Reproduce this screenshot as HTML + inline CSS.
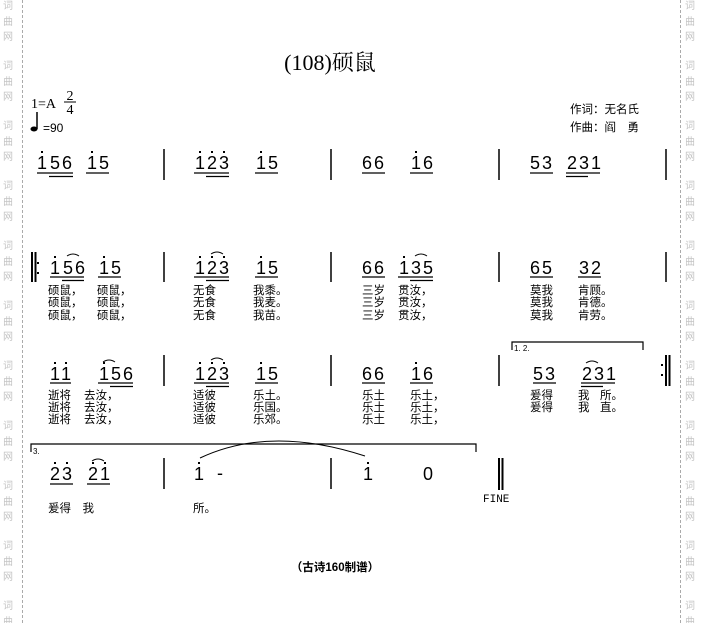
<!DOCTYPE html>
<html><head><meta charset="utf-8"><style>
html,body{margin:0;padding:0;background:#fff;}
svg{display:block;}
.n{font-family:"Liberation Sans",sans-serif;font-size:18px;text-anchor:middle;fill:#000;}
.l{font-family:"Liberation Sans","Noto Sans CJK SC",sans-serif;font-size:11.5px;fill:#000;}
.w{font-family:"Noto Sans CJK SC",sans-serif;font-size:10px;fill:#c4c4c4;text-anchor:middle;}
</style></head><body>
<svg width="701" height="623" viewBox="0 0 701 623" xmlns="http://www.w3.org/2000/svg">
<g stroke="#aaa" stroke-dasharray="3,2" stroke-width="1">
<line x1="22.5" y1="0" x2="22.5" y2="623"/><line x1="680.5" y1="0" x2="680.5" y2="623"/>
</g>
<g class="w" id="wm">
<text x="8" y="9">词</text><text x="8" y="25">曲</text><text x="8" y="40">网</text>
<text x="8" y="69">词</text><text x="8" y="85">曲</text><text x="8" y="100">网</text>
<text x="8" y="129">词</text><text x="8" y="145">曲</text><text x="8" y="160">网</text>
<text x="8" y="189">词</text><text x="8" y="205">曲</text><text x="8" y="220">网</text>
<text x="8" y="249">词</text><text x="8" y="265">曲</text><text x="8" y="280">网</text>
<text x="8" y="309">词</text><text x="8" y="325">曲</text><text x="8" y="340">网</text>
<text x="8" y="369">词</text><text x="8" y="385">曲</text><text x="8" y="400">网</text>
<text x="8" y="429">词</text><text x="8" y="445">曲</text><text x="8" y="460">网</text>
<text x="8" y="489">词</text><text x="8" y="505">曲</text><text x="8" y="520">网</text>
<text x="8" y="549">词</text><text x="8" y="565">曲</text><text x="8" y="580">网</text>
<text x="8" y="609">词</text><text x="8" y="625">曲</text>
</g>
<use href="#wm" x="682"/>

<text x="330" y="70" font-family="Liberation Serif,Noto Serif CJK SC,serif" font-size="22" text-anchor="middle">(108)硕鼠</text>
<text x="31" y="108" font-family="Liberation Serif,serif" font-size="14">1=A</text>
<text x="70" y="100" font-family="Liberation Serif,serif" font-size="14" text-anchor="middle">2</text>
<line x1="64" y1="102" x2="76" y2="102" stroke="#000"/>
<text x="70" y="114" font-family="Liberation Serif,serif" font-size="14" text-anchor="middle">4</text>
<ellipse cx="34" cy="129" rx="3.5" ry="2.5" fill="#000"/><line x1="37" y1="112" x2="37" y2="129" stroke="#000" stroke-width="1.5"/>
<text x="43" y="132" font-family="Liberation Sans,sans-serif" font-size="12">=90</text>
<text x="570" y="113" class="l" font-size="12">作词：无名氏</text>
<text x="570" y="131" class="l" font-size="12">作曲：阎　勇</text>

<g stroke="#000" stroke-width="1.5">
<line x1="164" y1="149" x2="164" y2="180"/><line x1="331" y1="149" x2="331" y2="180"/><line x1="499" y1="149" x2="499" y2="180"/><line x1="666" y1="149" x2="666" y2="180"/>
<line x1="164" y1="252" x2="164" y2="282"/><line x1="331" y1="252" x2="331" y2="282"/><line x1="499" y1="252" x2="499" y2="282"/><line x1="666" y1="252" x2="666" y2="282"/>
<line x1="164" y1="355" x2="164" y2="386"/><line x1="331" y1="355" x2="331" y2="386"/><line x1="499" y1="355" x2="499" y2="386"/>
<line x1="164" y1="458" x2="164" y2="489"/><line x1="331" y1="458" x2="331" y2="489"/>
</g>
<g stroke="#000" stroke-width="2">
<line x1="32" y1="252" x2="32" y2="282"/><line x1="35.5" y1="252" x2="35.5" y2="282"/>
<line x1="666" y1="355" x2="666" y2="386"/><line x1="669.5" y1="355" x2="669.5" y2="386"/>
<line x1="499" y1="458" x2="499" y2="490"/><line x1="502.5" y1="458" x2="502.5" y2="490"/>
</g>
<g fill="#000"><rect x="37" y="262" width="2" height="2"/><rect x="37" y="272" width="2" height="2"/>
<rect x="661" y="364" width="2" height="2"/><rect x="661" y="374" width="2" height="2"/></g>

<!-- Row 1 -->
<g class="n">
<text x="42" y="169">1</text><text x="55" y="169">5</text><text x="67" y="169">6</text>
<text x="92" y="169">1</text><text x="104" y="169">5</text>
<text x="200" y="169">1</text><text x="212" y="169">2</text><text x="224" y="169">3</text>
<text x="261" y="169">1</text><text x="273" y="169">5</text>
<text x="367" y="169">6</text><text x="379" y="169">6</text>
<text x="416" y="169">1</text><text x="428" y="169">6</text>
<text x="535" y="169">5</text><text x="547" y="169">3</text>
<text x="572" y="169">2</text><text x="584" y="169">3</text><text x="596" y="169">1</text>
</g>
<g fill="#000"><rect x="41" y="151" width="2" height="2"/><rect x="91" y="151" width="2" height="2"/><rect x="199" y="151" width="2" height="2"/><rect x="211" y="151" width="2" height="2"/><rect x="223" y="151" width="2" height="2"/><rect x="260" y="151" width="2" height="2"/><rect x="415" y="151" width="2" height="2"/></g>
<g stroke="#000" stroke-width="1.2">
<line x1="37" y1="173" x2="73" y2="173"/><line x1="49" y1="176.5" x2="73" y2="176.5"/><line x1="86" y1="173" x2="109" y2="173"/>
<line x1="194" y1="173" x2="229" y2="173"/><line x1="206" y1="176.5" x2="229" y2="176.5"/><line x1="255" y1="173" x2="278" y2="173"/>
<line x1="362" y1="173" x2="385" y2="173"/><line x1="410" y1="173" x2="433" y2="173"/>
<line x1="530" y1="173" x2="553" y2="173"/><line x1="566" y1="173" x2="600" y2="173"/><line x1="566" y1="176.5" x2="588" y2="176.5"/>
</g>

<!-- Row 2 -->
<g class="n">
<text x="55" y="274">1</text><text x="68" y="274">5</text><text x="80" y="274">6</text>
<text x="104" y="274">1</text><text x="116" y="274">5</text>
<text x="200" y="274">1</text><text x="212" y="274">2</text><text x="224" y="274">3</text>
<text x="261" y="274">1</text><text x="273" y="274">5</text>
<text x="367" y="274">6</text><text x="379" y="274">6</text>
<text x="404" y="274">1</text><text x="416" y="274">3</text><text x="428" y="274">5</text>
<text x="535" y="274">6</text><text x="547" y="274">5</text>
<text x="584" y="274">3</text><text x="596" y="274">2</text>
</g>
<g fill="#000"><rect x="54" y="256" width="2" height="2"/><rect x="103" y="256" width="2" height="2"/><rect x="199" y="256" width="2" height="2"/><rect x="211" y="256" width="2" height="2"/><rect x="223" y="256" width="2" height="2"/><rect x="260" y="256" width="2" height="2"/><rect x="403" y="256" width="2" height="2"/></g>
<g stroke="#000" stroke-width="1.2" fill="none">
<line x1="50" y1="277" x2="84" y2="277"/><line x1="62" y1="280.5" x2="84" y2="280.5"/><line x1="98" y1="277" x2="121" y2="277"/>
<line x1="194" y1="277" x2="229" y2="277"/><line x1="206" y1="280.5" x2="229" y2="280.5"/><line x1="255" y1="277" x2="278" y2="277"/>
<line x1="362" y1="277" x2="385" y2="277"/><line x1="398" y1="277" x2="433" y2="277"/><line x1="410" y1="280.5" x2="433" y2="280.5"/>
<line x1="530" y1="277" x2="553" y2="277"/><line x1="578" y1="277" x2="601" y2="277"/>
<path d="M67 256 Q73 252 79 256" stroke-width="1"/><path d="M211 254 Q217 250 223 254" stroke-width="1"/><path d="M415 256 Q421 252 427 256" stroke-width="1"/>
</g>
<g class="l">
<text x="48" y="294">硕鼠，</text><text x="97" y="294">硕鼠，</text><text x="193" y="294">无食</text><text x="253" y="294">我黍。</text><text x="362" y="294">三岁</text><text x="398" y="294">贯汝，</text><text x="530" y="294">莫我</text><text x="578" y="294">肯顾。</text>
<text x="48" y="306">硕鼠，</text><text x="97" y="306">硕鼠，</text><text x="193" y="306">无食</text><text x="253" y="306">我麦。</text><text x="362" y="306">三岁</text><text x="398" y="306">贯汝，</text><text x="530" y="306">莫我</text><text x="578" y="306">肯德。</text>
<text x="48" y="319">硕鼠，</text><text x="97" y="319">硕鼠，</text><text x="193" y="319">无食</text><text x="253" y="319">我苗。</text><text x="362" y="319">三岁</text><text x="398" y="319">贯汝，</text><text x="530" y="319">莫我</text><text x="578" y="319">肯劳。</text>
</g>

<!-- Row 3 -->
<path d="M512 350 V342 H643 V350" stroke="#000" fill="none" stroke-width="1.2"/>
<text x="514" y="351" font-family="Liberation Sans,sans-serif" font-size="8">1. 2.</text>
<g class="n">
<text x="55" y="380">1</text><text x="66" y="380">1</text>
<text x="104" y="380">1</text><text x="116" y="380">5</text><text x="128" y="380">6</text>
<text x="200" y="380">1</text><text x="212" y="380">2</text><text x="224" y="380">3</text>
<text x="261" y="380">1</text><text x="273" y="380">5</text>
<text x="367" y="380">6</text><text x="379" y="380">6</text>
<text x="416" y="380">1</text><text x="428" y="380">6</text>
<text x="538" y="380">5</text><text x="550" y="380">3</text>
<text x="587" y="380">2</text><text x="599" y="380">3</text><text x="611" y="380">1</text>
</g>
<g fill="#000"><rect x="54" y="362" width="2" height="2"/><rect x="65" y="362" width="2" height="2"/><rect x="103" y="362" width="2" height="2"/><rect x="199" y="362" width="2" height="2"/><rect x="211" y="362" width="2" height="2"/><rect x="223" y="362" width="2" height="2"/><rect x="260" y="362" width="2" height="2"/><rect x="415" y="362" width="2" height="2"/></g>
<g stroke="#000" stroke-width="1.2" fill="none">
<line x1="50" y1="383" x2="71" y2="383"/><line x1="98" y1="383" x2="133" y2="383"/><line x1="110" y1="386.5" x2="133" y2="386.5"/>
<line x1="194" y1="383" x2="229" y2="383"/><line x1="206" y1="386.5" x2="229" y2="386.5"/><line x1="255" y1="383" x2="278" y2="383"/>
<line x1="362" y1="383" x2="385" y2="383"/><line x1="410" y1="383" x2="433" y2="383"/>
<line x1="533" y1="383" x2="556" y2="383"/><line x1="581" y1="383" x2="615" y2="383"/><line x1="581" y1="386.5" x2="603" y2="386.5"/>
<path d="M103 362 Q109 358 115 362" stroke-width="1"/><path d="M211 360 Q217 356 223 360" stroke-width="1"/><path d="M586 363 Q592 359 598 363" stroke-width="1"/>
</g>
<g class="l">
<text x="48" y="399">逝将</text><text x="84" y="399">去汝，</text><text x="193" y="399">适彼</text><text x="253" y="399">乐土。</text><text x="362" y="399">乐土</text><text x="410" y="399">乐土，</text><text x="530" y="399">爰得</text><text x="578" y="399">我</text><text x="600" y="399">所。</text>
<text x="48" y="411">逝将</text><text x="84" y="411">去汝，</text><text x="193" y="411">适彼</text><text x="253" y="411">乐国。</text><text x="362" y="411">乐土</text><text x="410" y="411">乐土，</text><text x="530" y="411">爰得</text><text x="578" y="411">我</text><text x="600" y="411">直。</text>
<text x="48" y="423">逝将</text><text x="84" y="423">去汝，</text><text x="193" y="423">适彼</text><text x="253" y="423">乐郊。</text><text x="362" y="423">乐土</text><text x="410" y="423">乐土，</text>
</g>

<!-- Row 4 -->
<path d="M31 452 V444 H476 V452" stroke="#000" fill="none" stroke-width="1.2"/>
<text x="33" y="454" font-family="Liberation Sans,sans-serif" font-size="8">3.</text>
<path d="M200 458 Q270 425 365 456" stroke="#000" fill="none" stroke-width="1"/>
<g class="n">
<text x="55" y="480">2</text><text x="67" y="480">3</text>
<text x="93" y="480">2</text><text x="105" y="480">1</text>
<text x="199" y="480">1</text><text x="220" y="479">-</text>
<text x="368" y="480">1</text><text x="428" y="480">0</text>
</g>
<g fill="#000"><rect x="54" y="462" width="2" height="2"/><rect x="66" y="462" width="2" height="2"/><rect x="92" y="462" width="2" height="2"/><rect x="104" y="462" width="2" height="2"/><rect x="198" y="462" width="2" height="2"/><rect x="367" y="462" width="2" height="2"/></g>
<g stroke="#000" stroke-width="1.2" fill="none">
<line x1="50" y1="484" x2="73" y2="484"/><line x1="87" y1="484" x2="110" y2="484"/>
<path d="M92 461 Q98 457 104 461" stroke-width="1"/>
</g>
<text x="483" y="502" font-family="Liberation Mono,monospace" font-size="11">FINE</text>
<text x="48" y="512" class="l">爰得　我</text>
<text x="193" y="512" class="l">所。</text>
<text x="335" y="571" class="l" font-size="10" text-anchor="middle" font-weight="bold">（古诗160制谱）</text>
</svg>
</body></html>
